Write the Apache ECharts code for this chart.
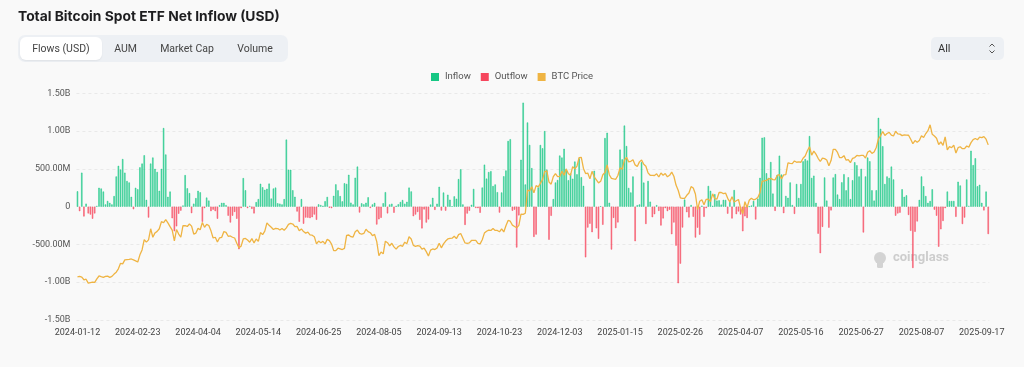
<!DOCTYPE html>
<html><head><meta charset="utf-8">
<script src="https://cdn.jsdelivr.net/npm/echarts@6/dist/echarts.min.js"></script>
<style>
html,body{margin:0;padding:0;background:#f9f9f9;width:1024px;height:367px;overflow:hidden;font-family:Roboto,"Noto Sans",sans-serif;}
#chart{position:absolute;left:0;top:0;width:1024px;height:367px;}
.title{position:absolute;left:18px;top:8px;font-family:Inter,"Noto Sans",sans-serif;font-size:13.8px;font-weight:700;color:#1d1d1f;}
.tabs{position:absolute;left:18px;top:35px;width:270px;height:27px;background:#edf0f4;border-radius:7px;}
.tab{position:absolute;top:2px;height:23px;line-height:23px;font-size:10.5px;color:#444;text-align:center;}
.tab.active{background:#fff;border-radius:6px;box-shadow:0 1px 2px rgba(0,0,0,.06);}
.sel{position:absolute;left:931px;top:37px;width:73px;height:23px;background:#edf0f4;border-radius:5px;font-size:11px;color:#333;line-height:23px;}
.sel span{position:absolute;left:7px;}
.sel svg{position:absolute;left:57px;top:5px;}
</style></head>
<body>
<div id="chart"></div>
<div class="title">Total Bitcoin Spot ETF Net Inflow (USD)</div>
<div class="tabs">
  <div class="tab active" style="left:2px;width:82px;">Flows (USD)</div>
  <div class="tab" style="left:90px;width:35px;">AUM</div>
  <div class="tab" style="left:135px;width:68px;">Market Cap</div>
  <div class="tab" style="left:212px;width:50px;">Volume</div>
</div>
<div class="sel"><span>All</span>
<svg width="8" height="13" viewBox="0 0 8 13"><path d="M1.5 4.5 L4 2 L6.5 4.5 M1.5 8.5 L4 11 L6.5 8.5" fill="none" stroke="#555" stroke-width="1"/></svg></div>
<script>
// trading-day categories (NYSE calendar)
const startDate = '2024-01-12';
const endDate = '2025-09-22';
const holidays = ['2024-01-15','2024-02-19','2024-03-29','2024-05-27','2024-06-19','2024-07-04','2024-09-02','2024-11-28','2024-12-25',
  '2025-01-01','2025-01-09','2025-01-20','2025-02-17','2025-04-18','2025-05-26','2025-06-19','2025-07-04','2025-09-01'];
const categories = [];
(function(){
  let d = new Date(startDate + 'T00:00:00Z');
  const e = new Date(endDate + 'T00:00:00Z');
  while (d <= e) {
    const s = d.toISOString().slice(0,10);
    const w = d.getUTCDay();
    if (w !== 0 && w !== 6 && holidays.indexOf(s) < 0) categories.push(s);
    d = new Date(d.getTime() + 86400000);
  }
})();

// net flow, millions USD
const netFlow = [
203,-60,450,-130,40,-90,-105,-160,-90,10,
250,240,200,30,75,50,30,140,400,540,
490,630,450,340,320,130,-35,250,230,520,
570,680,90,-145,570,650,500,460,210,500,
1040,690,130,200,-154,-326,-261,-94,-53,15,
418,243,179,-86,40,113,210,190,-200,-20,
120,80,-60,-40,-60,-160,20,50,50,20,
-120,-210,-120,-70,-160,-564,-20,378,217,-20,
10,-30,-90,60,100,303,257,222,237,305,
107,240,252,45,40,30,100,887,488,488,
217,131,-65,-200,100,-226,-145,-146,-152,-140,
-105,-174,31,21,12,73,129,-14,-20,143,
295,216,140,70,310,301,422,53,30,383,
530,-78,44,31,52,124,-18,30,50,-237,
-168,-148,45,192,-89,30,39,-81,11,32,
62,88,39,65,252,202,-127,-105,-71,-175,
-288,-37,-211,-169,28,117,-43,39,263,-52,
187,-53,158,92,4,136,105,365,494,30,
-242,-92,-55,25,235,-18,-20,-81,253,556,
371,458,470,273,294,192,-79,188,402,479,
870,893,-55,-40,-541,-116,621,1376,294,1114,
817,510,-400,-370,255,816,773,1000,490,-438,
-122,100,320,353,676,650,766,500,350,438,
370,597,428,637,390,275,-671,-277,-226,-338,
475,-287,-426,5,-240,908,978,52,-568,-149,
-284,-209,755,626,1073,802,248,188,400,-458,
20,30,588,318,-230,340,66,-140,-100,20,
-56,-250,-156,-20,-60,-40,-365,-210,-516,-1014,
-754,-276,94,-74,-143,22,-134,-409,-278,-371,
13,-135,-20,274,209,11,165,80,84,27,
90,89,-93,60,-157,220,-100,-64,-104,-326,
-128,-150,1,15,76,-170,107,381,912,917,
442,380,591,173,-56,422,675,425,-86,142,
117,321,22,-96,300,115,300,600,630,610,
934,380,410,50,-358,-616,-268,387,80,-278,
-50,386,431,160,100,322,430,216,389,100,
350,588,548,400,501,-342,400,650,601,216,
80,217,1175,1030,800,300,400,380,530,360,
-120,-90,-80,230,130,150,-110,-320,-812,-333,
-196,90,400,270,140,50,75,230,-40,-120,
-530,-300,-190,-20,200,75,75,75,-135,330,
280,-230,-145,360,10,740,550,640,270,290,
50,-50,200,-363
];

// BTC price, thousands USD
const btcPrice = [
42.8,43.1,42.7,41.3,41.6,39.5,39.8,40.1,39.9,41.8,
43.3,42.9,42.6,43.1,43.2,42.6,43.1,44.3,45.3,47.1,
50.0,49.7,51.8,52.0,52.1,52.3,51.8,51.3,50.7,54.5,
57.1,62.5,61.2,62.4,68.3,63.8,66.1,66.9,68.3,72.1,
71.5,73.1,71.4,69.4,67.6,61.9,67.9,65.5,63.8,70.0,
69.9,69.5,70.8,69.7,65.5,66.0,68.5,67.8,71.6,69.1,
70.6,70.0,67.2,63.4,63.8,61.3,63.5,63.8,66.8,66.4,
64.3,64.5,63.8,63.4,60.6,58.3,59.1,62.9,63.2,62.3,
61.2,63.1,60.8,62.9,61.6,66.3,65.2,67.0,71.4,70.1,
69.1,67.9,68.5,68.4,67.6,68.4,67.5,68.8,70.6,71.1,
70.8,69.4,69.5,67.3,68.2,66.8,66.0,66.5,65.1,64.9,
64.1,60.3,61.8,60.9,61.6,60.3,62.7,62.0,60.2,56.7,
56.7,58.0,57.7,57.3,57.9,64.8,65.0,64.1,63.9,66.7,
67.6,65.9,65.4,65.8,68.0,66.8,66.2,64.6,65.3,61.5,
54.0,56.0,55.0,61.7,60.9,59.3,60.6,58.7,57.5,58.9,
59.5,59.0,61.2,60.4,64.1,62.9,59.5,59.0,59.4,59.1,
57.5,58.0,56.2,53.9,57.0,57.6,57.3,58.1,60.6,58.2,
60.3,61.8,62.9,63.2,63.3,64.3,63.1,65.2,65.8,63.3,
60.8,60.6,60.8,62.1,62.2,62.1,60.6,60.3,62.5,66.0,
67.0,67.6,67.4,68.4,67.4,67.4,66.7,68.2,66.6,69.9,
72.7,72.3,70.2,69.5,68.8,70.1,76.0,75.9,76.5,88.7,
88.3,90.5,87.3,91.1,90.5,92.3,94.3,98.5,98.9,93.0,
91.9,95.9,97.5,95.9,96.0,98.8,96.6,99.9,97.4,96.7,
101.2,100.0,101.5,106.0,106.1,100.2,97.5,97.8,94.7,98.7,
95.8,94.2,92.6,93.4,96.9,98.1,102.1,96.9,95.0,94.7,
94.5,96.5,100.5,99.8,104.5,106.1,103.7,104.0,104.8,102.1,
101.3,103.7,104.7,102.4,101.4,97.9,96.6,96.6,96.5,97.4,
95.7,97.8,96.6,97.5,95.8,96.6,98.3,96.1,91.4,88.7,
84.7,84.4,84.4,86.0,87.2,90.6,89.9,86.7,78.5,82.9,
83.7,81.0,83.9,84.0,82.7,86.8,84.2,84.0,87.5,87.5,
86.9,87.2,84.4,82.5,85.2,82.5,83.1,83.8,79.2,76.3,
82.6,79.6,83.4,84.5,83.6,84.0,84.9,87.5,93.4,93.7,
93.9,94.7,95.0,94.3,94.2,96.5,96.9,94.7,96.8,97.0,
103.2,102.9,102.8,104.2,103.5,103.7,103.5,105.6,106.8,109.6,
111.7,107.3,109.4,107.8,105.6,103.9,105.7,105.4,104.7,101.6,
104.4,110.3,110.3,108.7,105.9,106.0,107.0,104.6,104.9,103.3,
105.6,106.0,107.1,106.9,107.1,107.1,105.7,108.8,109.6,108.2,
108.9,111.3,115.9,117.5,119.8,117.7,118.7,119.3,117.9,117.4,
119.9,118.5,118.4,117.6,118.0,117.9,117.8,115.7,113.3,115.0,
114.1,115.0,117.5,116.6,118.7,120.2,123.3,118.3,117.4,116.2,
112.9,114.3,112.4,116.9,110.1,111.8,111.2,112.6,108.4,111.2,
111.7,110.7,110.7,112.1,111.5,113.9,115.5,116.1,115.4,116.8,
116.5,117.1,115.7,112.7
];

const yTicks = { min: -1500, max: 1500, interval: 500 };
const priceAxis = { min: 20, max: 140 };

const inflow = netFlow.map(v => v > 0 ? v : '-');
const outflow = netFlow.map(v => v < 0 ? v : '-');

function fmt(v){
  if (v === 0) return '0';
  if (Math.abs(v) >= 1000) return (v/1000).toFixed(2) + 'B';
  return v.toFixed(2) + 'M';
}

const GREEN = '#16c784', RED = '#f6465d', GOLD = '#efb443';
const FONT = 'Roboto, "Noto Sans", sans-serif';
const chart = echarts.init(document.getElementById('chart'), null, {renderer:'canvas'});
chart.setOption({
  animation:false,
  backgroundColor:'#f9f9f9',
  textStyle:{fontFamily:FONT},
  legend:{
    top:67, left:'center', itemWidth:8, itemHeight:8, itemGap:10,
    textStyle:{fontSize:9.5, color:'#555', fontFamily:FONT, padding:[0,0,0,1]},
    data:[
      {name:'Inflow', icon:'rect', itemStyle:{color:GREEN, borderWidth:0}},
      {name:'Outflow', icon:'rect', itemStyle:{color:RED, borderWidth:0}},
      {name:'BTC Price', icon:'rect', itemStyle:{color:GOLD, borderWidth:0}}
    ]
  },
  grid:{left:76.4, right:34.7, top:93.3, bottom:47, containLabel:false},
  xAxis:{
    type:'category', data:categories, boundaryGap:true,
    axisLine:{show:false}, axisTick:{show:false},
    axisLabel:{interval:27, fontSize:9, color:'#444', margin:8, hideOverlap:false},
    splitLine:{show:false}
  },
  yAxis:[{
    type:'value', min:yTicks.min, max:yTicks.max, interval:yTicks.interval,
    axisLine:{show:false}, axisTick:{show:false},
    axisLabel:{formatter:fmt, fontSize:9, color:'#555', margin:6},
    splitLine:{lineStyle:{color:'#e9e9e9', type:[3,3]}}
  },{
    type:'value', min:priceAxis.min, max:priceAxis.max, show:false, splitLine:{show:false}
  }],
  series:[
    {name:'Inflow', type:'bar', stack:'f', data:inflow, barWidth:'62%',
      itemStyle:{color:'rgba(22,199,132,0.72)', borderColor:GREEN, borderWidth:0.5}},
    {name:'Outflow', type:'bar', stack:'f', data:outflow, barWidth:'62%',
      itemStyle:{color:'rgba(246,70,93,0.72)', borderColor:RED, borderWidth:0.5}},
    {name:'BTC Price', type:'line', yAxisIndex:1, data:btcPrice, showSymbol:false, symbol:'none',
      lineStyle:{color:GOLD, width:1.3}, itemStyle:{color:GOLD}, z:5}
  ],
  graphic:[
    {type:'circle', shape:{cx:880, cy:258, r:6}, style:{fill:'#d3d3d3'}, z:0},
    {type:'rect', shape:{x:877, y:261, width:6, height:7, r:1.5}, style:{fill:'#d3d3d3'}, z:0},
    {type:'text', left:893, top:251, style:{text:'coinglass', fontSize:13, fontWeight:'bold', fill:'#cdcdcd', fontFamily:FONT}, z:0}
  ]
});
</script>
</body></html>
